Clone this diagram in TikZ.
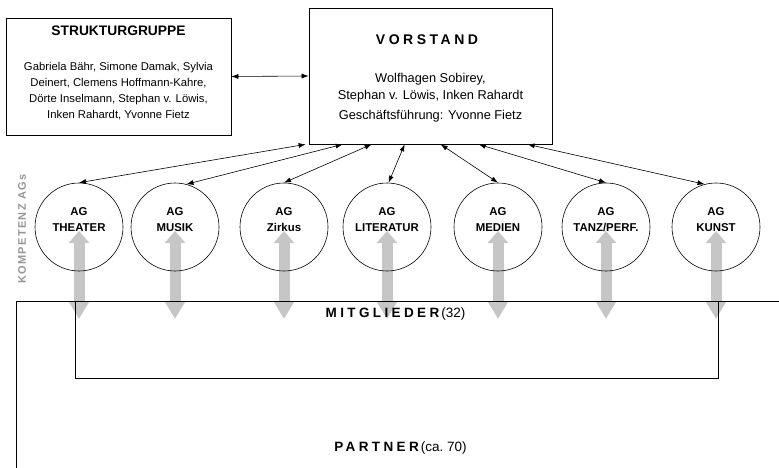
\documentclass[tikz,border=0pt]{standalone}
\usepackage{fontspec}
\setmainfont{Liberation Sans}
\newfontfamily\spc[LetterSpace=25]{Liberation Sans}
\newfontfamily\spcs[LetterSpace=12]{Liberation Sans}
\usetikzlibrary{arrows.meta}
\pgfdeclarelayer{bg}
\pgfsetlayers{bg,main}
\definecolor{arrgray}{RGB}{198,198,198}
\definecolor{labgray}{RGB}{150,150,150}
\tikzset{
  box/.style={draw, line width=0.7pt, inner sep=0pt},
  plain/.style={inner sep=0pt, align=center},
  ag/.style={draw, circle, line width=0.6pt, minimum size=88pt, inner sep=0pt},
  agtxt/.style={align=center, inner sep=0pt, yshift=7pt, font=\bfseries\fontsize{11.4}{16}\selectfont},
  link/.style={line width=0.6pt, {Latex[length=7pt,width=5pt]}-{Latex[length=7pt,width=5pt]}},
  fat/.style={arrgray, line width=11pt, {Triangle[length=12pt,width=20pt]}-{Triangle[length=18pt,width=20pt]}},
  frame/.style={line width=0.7pt}
}
\begin{document}
\begin{tikzpicture}[x=1pt, y=-1pt]
\useasboundingbox (0,0) rectangle (779,468);
% Strukturgruppe
\node[box, minimum width=225pt, minimum height=117pt] (sg) at (118.5,76.5) {};
\node[plain, font=\bfseries\fontsize{13.8}{16}\selectfont] (sgt) at (118.5,31) {STRUKTURGRUPPE};
\node[plain, anchor=north, font=\fontsize{11.3}{16}\selectfont] (sgb) at (118.5,62.5)
  {Gabriela Bähr, Simone Damak, Sylvia\\Deinert, Clemens Hoffmann-Kahre,\\Dörte Inselmann, Stephan v. Löwis,\\Inken Rahardt, Yvonne Fietz};
% Vorstand
\node[box, minimum width=243pt, minimum height=136pt] (vor) at (430.5,76) {};
\node[plain, font=\spc\bfseries\fontsize{14}{16}\selectfont] (vort) at (427,40) {VORSTAND};
\node[plain, anchor=north, font=\fontsize{12.8}{17}\selectfont] (vorb) at (430.5,73)
  {Wolfhagen Sobirey,\\Stephan v. Löwis, Inken Rahardt\\[3pt]Geschäftsführung: Yvonne Fietz};
\draw[link] (sg.east) -- (vor.west);
% AG circles
\node[ag, label={[agtxt]center:AG\\THEATER}] (c1) at (79,227) {};
\node[ag, label={[agtxt]center:AG\\MUSIK}] (c2) at (175,227) {};
\node[ag, label={[agtxt]center:AG\\Zirkus}] (c3) at (284,227) {};
\node[ag, label={[agtxt]center:AG\\LITERATUR}] (c4) at (387,227) {};
\node[ag, label={[agtxt]center:AG\\MEDIEN}] (c5) at (498,227) {};
\node[ag, label={[agtxt]center:AG\\TANZ/PERF.}] (c6) at (606,227) {};
\node[ag, label={[agtxt]center:AG\\KUNST}] (c7) at (716,227) {};
% links to Vorstand
\draw[link] ([xshift=-3pt]vor.south west) -- (c1.north);
\draw[link] ([xshift=34pt]vor.south west) -- (c2.75);
\draw[link] ([xshift=63pt]vor.south west) -- (c3.north);
\draw[link] ([xshift=96pt]vor.south west) -- (c4.88);
\draw[link] ([xshift=132pt]vor.south west) -- (c5.north);
\draw[link] ([xshift=170pt]vor.south west) -- (c6.north);
\draw[link] ([xshift=219pt]vor.south west) -- (c7.105);
% Kompetenz label
\node[plain, rotate=90, text=labgray, font=\spcs\bfseries\fontsize{11}{12}\selectfont] (komp) at (22,229) {KOMPETENZ AGs};
% Mitglieder / Partner frames
\coordinate (ptr) at (779,301);
\coordinate (pbl) at (16,468);
\draw[frame] (ptr) -- (16,301) -- (pbl);
\node[draw, line width=0.7pt, inner sep=0pt, minimum width=643pt, minimum height=77pt] (mit) at (396.5,339.5) {};
\node[inner sep=0pt, anchor=base] (mitt) at (395.5,317.5) {{\spc\bfseries\fontsize{13.5}{16}\selectfont MITGLIEDER}\kern2pt{\fontsize{13.5}{16}\selectfont(32)}};
\node[inner sep=0pt, anchor=base] (part) at (400.5,451.5) {{\spc\bfseries\fontsize{13.5}{16}\selectfont PARTNER}\kern2pt{\fontsize{13.5}{16}\selectfont(ca.~70)}};
% gray double arrows
\begin{pgfonlayer}{bg}
\foreach \i/\xx in {1/79,2/175,3/284,4/387,5/498,6/606,7/716}{
  \coordinate (e\i) at (\xx,319);
  \draw[fat] ([yshift=-4pt]c\i.center) -- (e\i);
}
\end{pgfonlayer}
\end{tikzpicture}
\end{document}
